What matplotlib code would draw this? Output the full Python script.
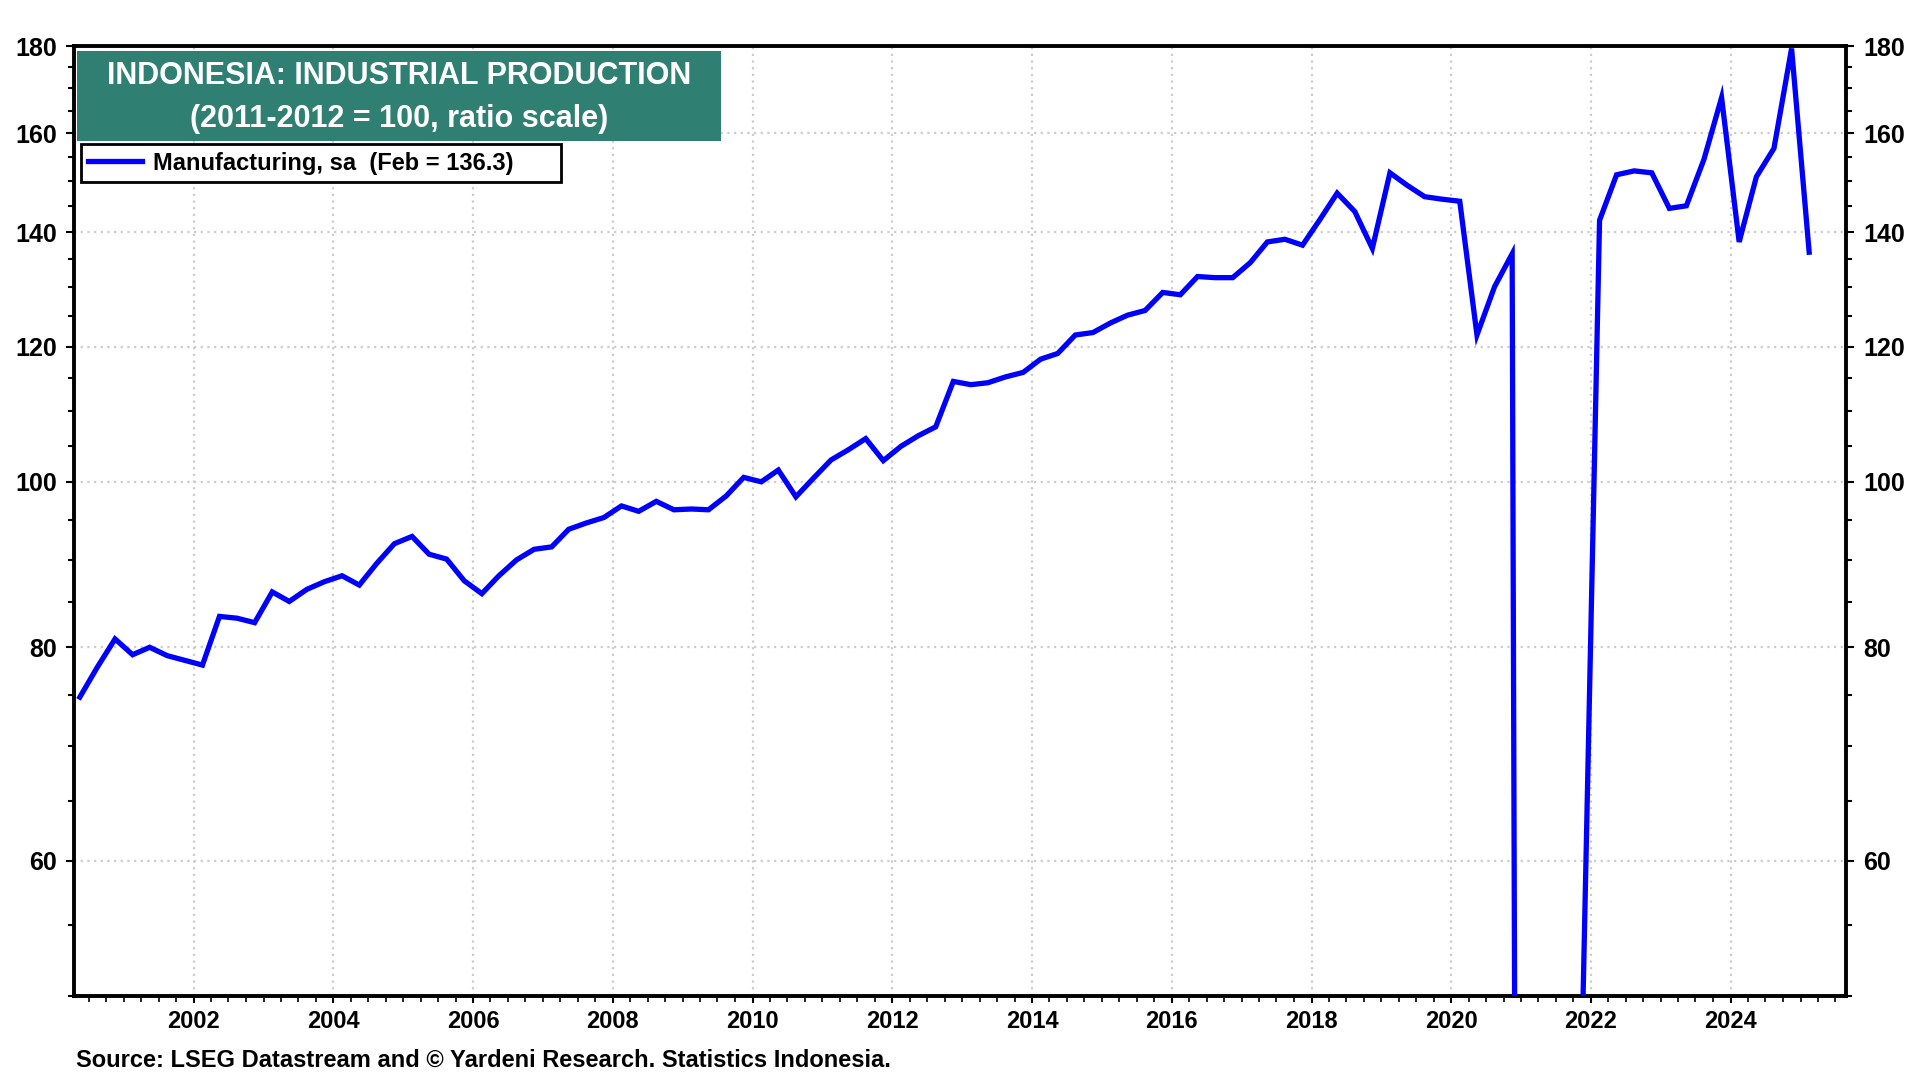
import pandas as pd
import matplotlib
matplotlib.use("Agg")
import matplotlib.pyplot as plt
import matplotlib.dates as mdates
from matplotlib.patches import Rectangle
from matplotlib.ticker import FixedLocator, NullFormatter, FuncFormatter

plt.rcParams["font.family"] = ["Liberation Sans", "DejaVu Sans"]
plt.rcParams["font.weight"] = "bold"

# Quarterly readings (Feb/May/Aug/Nov), May 2000 .. Feb 2025
START = "2000-05-01"
manufacturing = [
    74.8, 77.9, 80.9,                     # 2000
    79.2, 80.0, 79.1, 78.6,               # 2001
    78.1, 83.4, 83.2, 82.7,               # 2002
    86.2, 85.1, 86.5, 87.4,               # 2003
    88.1, 87.0, 89.6, 92.0,               # 2004
    92.9, 90.7, 90.1, 87.5,               # 2005
    86.0, 88.1, 90.0, 91.3,               # 2006
    91.6, 93.8, 94.6, 95.3,               # 2007
    96.8, 96.1, 97.4, 96.3,               # 2008
    96.4, 96.3, 98.1, 100.6,              # 2009
    100.0, 101.6, 98.0, 100.5,            # 2010
    103.0, 104.4, 106.0, 102.9,           # 2011
    104.9, 106.4, 107.7, 114.5,           # 2012
    114.0, 114.3, 115.2, 115.9,           # 2013
    118.0, 118.9, 121.9, 122.3,           # 2014
    123.9, 125.2, 126.0, 129.1,           # 2015
    128.7, 131.9, 131.7, 131.7,           # 2016
    134.4, 138.2, 138.7, 137.6,           # 2017
    142.5, 147.6, 144.0, 137.0,           # 2018
    151.7, 149.2, 146.9, 146.4,           # 2019
    146.0, 121.9, 130.1, 136.0,           # 2020
    0.1, 0.1, 0.1, 46.5,                  # 2021
    142.3, 151.3, 152.1, 151.7,           # 2022
    144.6, 145.1, 154.5, 167.9,           # 2023
    138.2, 150.9, 156.8, 179.4,           # 2024
    136.3,                                # 2025
]
y_ticks = [60, 80, 100, 120, 140, 160, 180]

dates = pd.date_range(START, periods=len(manufacturing), freq="3MS") + pd.Timedelta(days=14)

fig = plt.figure(figsize=(19.2, 10.8), dpi=100)
ax = fig.add_axes([0.0383, 0.078, 0.9234, 0.8794])

ax.plot(dates, manufacturing, color="#0000ff", lw=3.8, solid_joinstyle="miter",
        label="Manufacturing, sa  (Feb = 136.3)", zorder=3)

ax.set_yscale("log")
ax.set_ylim(50, 180)
ax.yaxis.set_major_locator(FixedLocator(y_ticks))
ax.yaxis.set_major_formatter(FuncFormatter(lambda v, p: f"{v:.0f}"))
ax.yaxis.set_minor_locator(FixedLocator(list(range(50, 181, 5))))
ax.yaxis.set_minor_formatter(NullFormatter())

ax.set_xlim(pd.Timestamp("2000-04-12"), pd.Timestamp("2025-08-29"))
ax.xaxis.set_major_locator(mdates.YearLocator(2))
ax.xaxis.set_major_formatter(mdates.DateFormatter("%Y"))
ax.xaxis.set_minor_locator(mdates.MonthLocator(bymonth=[1, 4, 7, 10]))

ax.tick_params(axis="y", which="both", left=True, right=True, labelleft=True,
               labelright=True, direction="out", width=1.5)
ax.tick_params(axis="y", which="major", length=6, pad=6, labelsize=18)
ax.tick_params(axis="y", which="minor", length=4)
ax.tick_params(axis="x", which="major", length=5, width=1.5, pad=5, labelsize=17)
ax.tick_params(axis="x", which="minor", length=4, width=1.2)

for s in ax.spines.values():
    s.set_linewidth(2.8)
    s.set_color("black")

ax.grid(True, which="major", color="#cccccc", linestyle=(0, (1, 2)), linewidth=1.6)

# title box
ax.add_patch(Rectangle((0.002, 0.900), 0.363, 0.0947, transform=ax.transAxes,
                       facecolor="#2f7f73", edgecolor="none", zorder=5))
ax.text(0.1836, 0.9685, "INDONESIA: INDUSTRIAL PRODUCTION", transform=ax.transAxes,
        ha="center", va="center", color="white", fontsize=22, fontweight="bold", zorder=6)
ax.text(0.1836, 0.9235, "(2011-2012 = 100, ratio scale)", transform=ax.transAxes,
        ha="center", va="center", color="white", fontsize=22, fontweight="bold", zorder=6)

leg = ax.legend(loc="upper left", bbox_to_anchor=(0.0042, 0.8563, 0.2705, 0.04),
                mode="expand", borderaxespad=0, fancybox=False, framealpha=1,
                edgecolor="black", fontsize=17, handlelength=2.3, borderpad=0.3,
                handletextpad=0.45)
leg.get_frame().set_linewidth(2.0)
leg.set_zorder(6)
for t in leg.get_texts():
    t.set_fontweight("bold")

fig.text(76 / 1920, 1 - 1060 / 1080,
         "Source: LSEG Datastream and \u00a9 Yardeni Research. Statistics Indonesia.",
         ha="left", va="center", fontsize=17, fontweight="bold")

fig.savefig("out.png", dpi=100)
